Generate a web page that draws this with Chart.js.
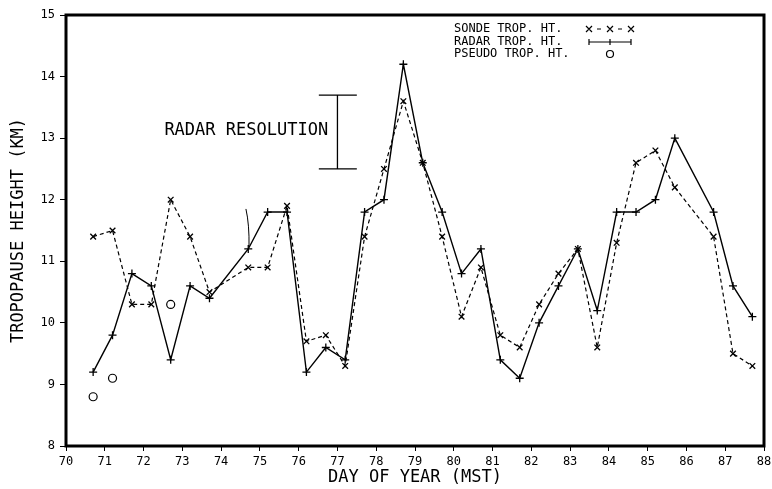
<!DOCTYPE html>
<html>
<head>
<meta charset="utf-8">
<script src="https://cdn.jsdelivr.net/npm/chart.js@4.4.1/dist/chart.umd.min.js"></script>
<style>
  html, body { margin: 0; padding: 0; background: #fff; }
  #tropChart { display: block; }
</style>
</head>
<body>
<canvas id="tropChart" width="772" height="489"></canvas>
<script>
// observation times (day of year, MST) - two soundings a day
const days = [70.7, 71.2, 71.7, 72.2, 72.7, 73.2, 73.7, 74.7, 75.2, 75.7,
              76.2, 76.7, 77.2, 77.7, 78.2, 78.7, 79.2, 79.7, 80.2, 80.7,
              81.2, 81.7, 82.2, 82.7, 83.2, 83.7, 84.2, 84.7, 85.2, 85.7,
              86.7, 87.2, 87.7];

const sondeHeights = [11.4, 11.5, 10.3, 10.3, 12.0, 11.4, 10.5, 10.9, 10.9, 11.9,
                      9.7, 9.8, 9.3, 11.4, 12.5, 13.6, 12.6, 11.4, 10.1, 10.9,
                      9.8, 9.6, 10.3, 10.8, 11.2, 9.6, 11.3, 12.6, 12.8, 12.2,
                      11.4, 9.5, 9.3];

const radarHeights = [9.2, 9.8, 10.8, 10.6, 9.4, 10.6, 10.4, 11.2, 11.8, 11.8,
                      9.2, 9.6, 9.4, 11.8, 12.0, 14.2, 12.6, 11.8, 10.8, 11.2,
                      9.4, 9.1, 10.0, 10.6, 11.2, 10.2, 11.8, 11.8, 12.0, 13.0,
                      11.8, 10.6, 10.1];

const pseudoDays = [70.7, 71.2, 72.7];
const pseudoHeights = [8.8, 9.1, 10.3];

const xMin = 70, xMax = 88;
const yMin = 8, yMax = 15;

// radar resolution bar (km)
const resolutionLow = 12.5;
const resolutionHigh = 13.7;

const FONT = '"DejaVu Sans Mono", "Liberation Mono", monospace';

function toPoints(xs, ys) {
    return xs.map((x, i) => ({ x: x, y: ys[i] }));
}

// frame, resolution bar, legend and the stray pen mark
const decorations = {
    id: 'decorations',
    afterDatasetsDraw(chart) {
        const ctx = chart.ctx;
        const area = chart.chartArea;
        const xs = chart.scales.x;
        const ys = chart.scales.y;
        ctx.save();
        ctx.strokeStyle = '#000';
        ctx.fillStyle = '#000';

        // resolution bar
        const bx = xs.getPixelForValue(77.0);
        const c1 = xs.getPixelForValue(76.52);
        const c2 = xs.getPixelForValue(77.5);
        const yTop = ys.getPixelForValue(resolutionHigh);
        const yBot = ys.getPixelForValue(resolutionLow);
        ctx.lineWidth = 1.3;
        ctx.beginPath();
        ctx.moveTo(bx, yTop); ctx.lineTo(bx, yBot);
        ctx.moveTo(c1, yTop); ctx.lineTo(c2, yTop);
        ctx.moveTo(c1, yBot); ctx.lineTo(c2, yBot);
        ctx.stroke();

        ctx.font = '17px ' + FONT;
        ctx.textAlign = 'right';
        ctx.textBaseline = 'middle';
        ctx.fillText('RADAR RESOLUTION', xs.getPixelForValue(76.76), ys.getPixelForValue(13.12));

        // pen mark near day 74.7
        ctx.lineWidth = 1;
        ctx.beginPath();
        ctx.moveTo(xs.getPixelForValue(74.64), ys.getPixelForValue(11.85));
        ctx.quadraticCurveTo(xs.getPixelForValue(74.73), ys.getPixelForValue(11.6),
                             xs.getPixelForValue(74.72), ys.getPixelForValue(11.23));
        ctx.stroke();

        // legend
        ctx.font = '12px ' + FONT;
        ctx.textAlign = 'left';
        const lx = 454;
        const rows = [29, 42, 54];
        ctx.fillText('SONDE TROP. HT.', lx, rows[0]);
        ctx.fillText('RADAR TROP. HT.', lx, rows[1]);
        ctx.fillText('PSEUDO TROP. HT.', lx, rows[2]);

        const sx = [589, 610, 631];
        ctx.lineWidth = 1.2;
        // sonde symbol
        ctx.beginPath();
        sx.forEach(x => {
            ctx.moveTo(x - 3, rows[0] - 3); ctx.lineTo(x + 3, rows[0] + 3);
            ctx.moveTo(x + 3, rows[0] - 3); ctx.lineTo(x - 3, rows[0] + 3);
        });
        ctx.moveTo(597, rows[0]); ctx.lineTo(601, rows[0]);
        ctx.moveTo(618, rows[0]); ctx.lineTo(622, rows[0]);
        ctx.stroke();
        // radar symbol
        ctx.beginPath();
        ctx.moveTo(sx[0], rows[1]); ctx.lineTo(sx[2], rows[1]);
        sx.forEach(x => {
            ctx.moveTo(x, rows[1] - 3); ctx.lineTo(x, rows[1] + 3);
        });
        ctx.stroke();
        // pseudo symbol
        ctx.beginPath();
        ctx.arc(610, rows[2], 3.5, 0, Math.PI * 2);
        ctx.stroke();

        // frame
        ctx.lineWidth = 3;
        ctx.strokeRect(area.left, area.top, area.right - area.left, area.bottom - area.top);
        ctx.restore();
    }
};

const ctx = document.getElementById('tropChart').getContext('2d');
const tropChart = new Chart(ctx, {
    type: 'scatter',
    data: {
        datasets: [{
            label: 'SONDE TROP. HT.',
            data: toPoints(days, sondeHeights),
            showLine: true,
            borderColor: '#000',
            borderWidth: 1.2,
            borderDash: [4, 3],
            pointStyle: 'crossRot',
            pointRadius: 4,
            pointBorderWidth: 1.3,
            pointBorderColor: '#000',
            tension: 0
        }, {
            label: 'RADAR TROP. HT.',
            data: toPoints(days, radarHeights),
            showLine: true,
            borderColor: '#000',
            borderWidth: 1.4,
            pointStyle: 'cross',
            pointRadius: 4,
            pointBorderWidth: 1.3,
            pointBorderColor: '#000',
            tension: 0
        }, {
            label: 'PSEUDO TROP. HT.',
            data: toPoints(pseudoDays, pseudoHeights),
            showLine: false,
            pointStyle: 'circle',
            pointRadius: 4,
            pointBorderWidth: 1.2,
            pointBorderColor: '#000',
            pointBackgroundColor: 'rgba(0,0,0,0)'
        }]
    },
    options: {
        responsive: false,
        animation: false,
        layout: { padding: { top: 15, right: 8, left: 0, bottom: 0 } },
        plugins: {
            legend: { display: false },
            tooltip: { enabled: false }
        },
        scales: {
            x: {
                type: 'linear',
                min: xMin,
                max: xMax,
                afterFit: (scale) => {
                    scale.height = 43;
                    scale.paddingLeft = 0;
                    scale.paddingRight = 0;
                },
                ticks: {
                    stepSize: 1,
                    color: '#000',
                    padding: 4,
                    maxRotation: 0,
                    font: { family: FONT, size: 12 }
                },
                grid: {
                    drawOnChartArea: false,
                    drawTicks: true,
                    tickLength: 5,
                    color: '#000'
                },
                border: { display: false },
                title: {
                    display: true,
                    text: 'DAY OF YEAR (MST)',
                    color: '#000',
                    padding: { top: 0, bottom: 1 },
                    font: { family: FONT, size: 17 }
                }
            },
            y: {
                min: yMin,
                max: yMax,
                afterFit: (scale) => {
                    scale.width = 66;
                    scale.paddingTop = 0;
                    scale.paddingBottom = 0;
                },
                ticks: {
                    stepSize: 1,
                    color: '#000',
                    padding: 5,
                    font: { family: FONT, size: 12 }
                },
                grid: {
                    drawOnChartArea: false,
                    drawTicks: true,
                    tickLength: 6,
                    color: '#000'
                },
                border: { display: false },
                title: {
                    display: true,
                    text: 'TROPOPAUSE HEIGHT (KM)',
                    color: '#000',
                    padding: { top: 8, bottom: 0 },
                    font: { family: FONT, size: 17 }
                }
            }
        }
    },
    plugins: [decorations]
});
</script>
</body>
</html>
